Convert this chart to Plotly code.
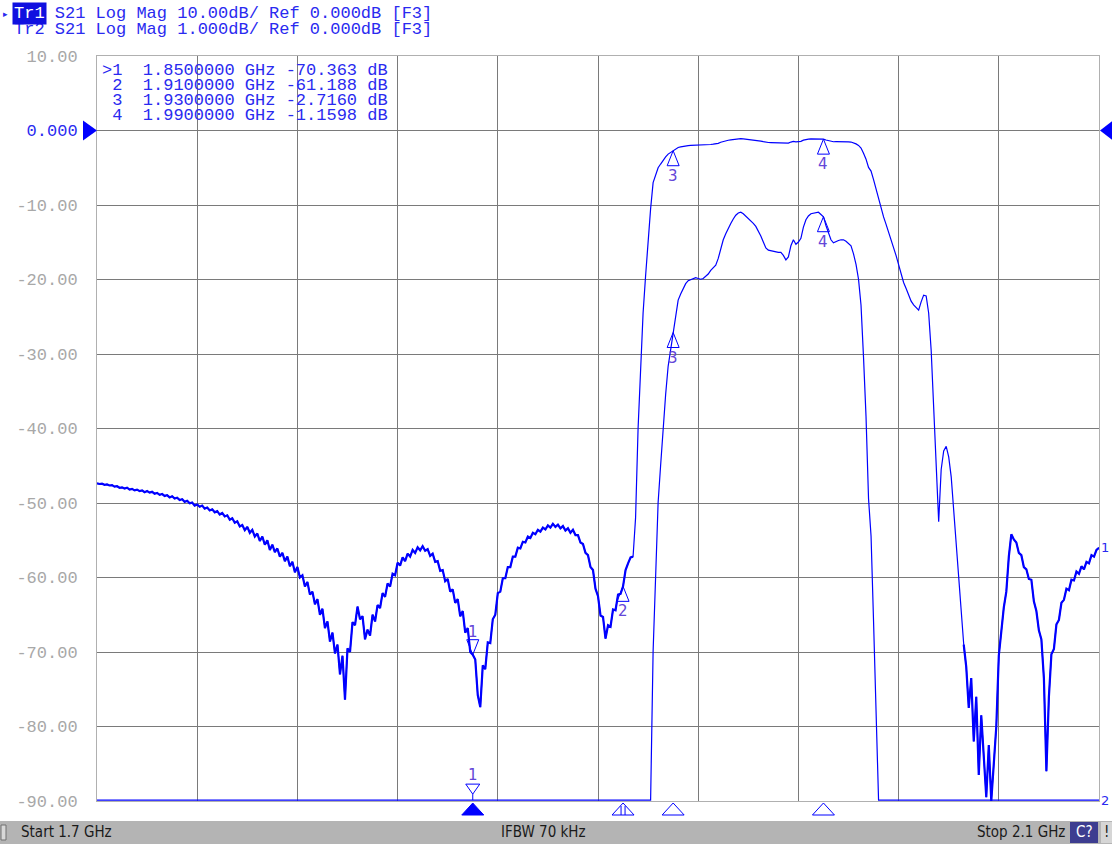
import numpy as np
import plotly.graph_objects as go

# ---------------- data ----------------
start_ghz = 1.7
stop_ghz = 2.1
n_points = 401
freq_ghz = np.linspace(start_ghz, stop_ghz, n_points)   # linear sweep, 1 MHz step

s21_db = [
    -47.35, -47.45, -47.4, -47.55, -47.5, -47.65, -47.6, -47.8, -47.75, -47.95,
    -47.9, -48.05, -47.95, -48.2, -48.1, -48.3, -48.2, -48.4, -48.3, -48.55,
    -48.4, -48.6, -48.5, -48.75, -48.65, -48.9, -48.8, -49.05, -48.95, -49.25,
    -49.1, -49.4, -49.3, -49.6, -49.5, -49.85, -49.7, -50.05, -49.95, -50.35,
    -50.2, -50.5, -50.35, -50.75, -50.6, -51.0, -50.85, -51.25, -51.1, -51.55,
    -51.35, -51.8, -51.65, -52.25, -52.05, -52.65, -52.45, -53.15, -52.95, -53.65,
    -53.2, -54.0, -53.6, -54.5, -54.1, -55.1, -54.5, -55.6, -55.0, -56.3,
    -55.6, -56.6, -56.1, -57.2, -56.7, -57.8, -57.2, -58.5, -57.9, -59.3,
    -58.6, -60.0, -59.7, -61.2, -60.6, -62.3, -61.9, -63.6, -62.9, -65.0,
    -64.2, -66.8, -65.9, -68.6, -67.4, -70.2, -69.0, -73.0, -70.5, -76.4,
    -69.5, -70.0, -66.0, -66.4, -63.9, -65.6, -65.2, -68.3, -67.0, -67.8,
    -65.0, -65.9, -63.7, -64.1, -62.1, -62.6, -60.8, -61.2, -59.5, -59.7,
    -58.0, -58.4, -57.3, -57.8, -56.8, -57.2, -56.3, -56.7, -55.95, -56.35,
    -55.8, -56.4, -56.2, -57.1, -56.8, -57.9, -57.8, -59.1, -59.0, -60.5,
    -60.2, -61.9, -61.6, -63.4, -62.9, -65.2, -64.5, -67.4, -66.8, -70.0,
    -70.363, -71.0, -75.8, -77.4, -71.8, -72.3, -68.7, -68.8, -65.6, -65.0,
    -62.1, -61.9, -60.1, -60.1, -58.6, -58.6, -57.2, -57.2, -56.0, -56.1,
    -55.2, -55.3, -54.5, -54.7, -54.0, -54.2, -53.6, -53.85, -53.3, -53.55,
    -53.0, -53.3, -52.8, -53.2, -52.9, -53.4, -53.1, -53.7, -53.4, -54.0,
    -53.6, -54.3, -54.3, -55.3, -55.5, -56.7, -57.0, -58.6, -59.0, -61.5,
    -62.5, -65.1, -65.3, -68.2, -66.4, -66.6, -64.3, -64.4, -62.3, -62.2,
    -61.188, -59.0, -58.1, -57.3, -57.2, -52.0, -40.0, -31.5, -24.5, -19.5,
    -14.5, -10.5, -7.0, -6.0, -5.0, -4.5, -3.95, -3.55, -3.17, -2.95,
    -2.716, -2.45, -2.28, -2.20, -2.12, -2.06, -2.02, -2.01, -2.00, -1.98,
    -1.99, -2.00, -1.99, -1.96, -1.93, -1.88, -1.84, -1.81, -1.72, -1.58,
    -1.47, -1.39, -1.31, -1.25, -1.19, -1.14, -1.11, -1.10, -1.12, -1.15,
    -1.18, -1.21, -1.25, -1.29, -1.35, -1.42, -1.50, -1.58, -1.61, -1.62,
    -1.63, -1.63, -1.64, -1.64, -1.68, -1.74, -1.70, -1.55, -1.47, -1.53,
    -1.50, -1.45, -1.30, -1.20, -1.15, -1.12, -1.11, -1.10, -1.10, -1.13,
    -1.1598, -1.28, -1.38, -1.47, -1.51, -1.49, -1.48, -1.47, -1.47, -1.49,
    -1.52, -1.55, -1.66, -1.80, -2.00, -2.35, -3.05, -3.85, -4.95, -5.45,
    -6.6, -7.9, -9.2, -10.5, -11.6, -12.6, -13.6, -14.6, -15.7, -16.8,
    -18.0, -19.3, -20.4, -21.2, -22.1, -22.9, -23.4, -23.8, -24.1, -23.0,
    -22.1, -22.2, -24.5, -29.5, -37.5, -43.5, -52.5, -45.5, -43.0, -42.4,
    -43.8, -46.5, -50.8, -55.0, -59.3, -64.0, -69.0, -72.0, -77.5, -73.5,
    -82.0, -76.0, -86.5, -78.5, -84.0, -89.5, -82.5, -90.0, -85.0, -80.0,
    -70.5, -67.3, -64.0, -61.9, -57.2, -54.2, -54.9, -55.3, -56.7, -57.0,
    -58.6, -58.9, -60.2, -60.3, -63.2, -64.5, -67.1, -68.3, -73.5, -86.0,
    -76.0, -70.3, -69.6, -66.3, -65.7, -63.4, -63.0, -61.5, -61.7, -60.3,
    -60.4, -59.2, -59.5, -58.5, -58.9, -57.9, -58.1, -57.0, -57.2, -56.3,
    -56.0,
]

marker_ids = [1, 2, 3, 4]
marker_freq_ghz = [1.85, 1.91, 1.93, 1.99]
marker_db = [-70.363, -61.188, -2.7160, -1.1598]

trace_names = ["Tr1", "Tr2"]
trace_scale_db = [10.0, 1.0]         # dB per division
trace_ref_db = [0.0, 0.0]
trace_scale_text = ["10.00dB/", "1.000dB/"]
ifbw_text = "IFBW 70 kHz"

# stop-band spans where the measured trace is noisy (drawn heavier)
noisy_spans_ghz = [(1.700, 1.9145), (2.0455, 2.100)]

y_ticks = [10, 0, -10, -20, -30, -40, -50, -60, -70, -80, -90]
y_tick_labels = ["10.00", "0.000", "-10.00", "-20.00", "-30.00", "-40.00",
                 "-50.00", "-60.00", "-70.00", "-80.00", "-90.00"]

# ---------------- styling ----------------
BLUE = "#0000ff"
TXT_BLUE = "#2a2af0"
MK_TXT = "#6446d8"
GRID = "#7a7a7a"
FRAME = "#b0b0b0"
MONO = "Liberation Mono, DejaVu Sans Mono, monospace"
W, H = 1112, 844
L, R, T, B = 97, 13, 56, 43
PW, PH = W - L - R, H - T - B


def px(xp):
    return (xp - L) / PW


def py(yp):
    return (H - B - yp) / PH


# display ranges: 10 divisions, reference at 9th division from bottom
y1_range = [trace_ref_db[0] - 9 * trace_scale_db[0], trace_ref_db[0] + 1 * trace_scale_db[0]]
tr2_bottom = trace_ref_db[1] - 9 * trace_scale_db[1]
tr2_top = trace_ref_db[1] + 1 * trace_scale_db[1]
y2_range = [tr2_bottom - 0.012, tr2_top]

s21 = np.array(s21_db)
tr2_display = np.clip(s21, tr2_bottom, tr2_top)
noisy = np.zeros(n_points, dtype=bool)
for a, b in noisy_spans_ghz:
    noisy |= (freq_ghz >= a) & (freq_ghz <= b)
s21_noisy = np.where(noisy, s21, np.nan)

fig = go.Figure()
fig.add_trace(go.Scatter(x=freq_ghz, y=tr2_display, mode="lines", yaxis="y2",
                         line=dict(color=BLUE, width=1.2), hoverinfo="skip", name="Tr2"))
fig.add_trace(go.Scatter(x=freq_ghz, y=s21, mode="lines", yaxis="y",
                         line=dict(color=BLUE, width=1.2), hoverinfo="skip", name="Tr1"))
fig.add_trace(go.Scatter(x=freq_ghz, y=s21_noisy, mode="lines", yaxis="y", connectgaps=False,
                         line=dict(color=BLUE, width=2.2), hoverinfo="skip", name="Tr1 noise"))

ticktext = [f'<span style="color:{TXT_BLUE}">{t}</span>' if v == trace_ref_db[0] else t
            for v, t in zip(y_ticks, y_tick_labels)]

fig.update_layout(
    width=W, height=H,
    margin=dict(l=L, r=R, t=T, b=B, pad=0),
    paper_bgcolor="white", plot_bgcolor="white",
    showlegend=False, hovermode=False,
    xaxis=dict(range=[start_ghz, stop_ghz], tick0=start_ghz, dtick=(stop_ghz - start_ghz) / 10,
               showticklabels=False, ticks="", showgrid=True, gridcolor=GRID, gridwidth=1,
               zeroline=False, showline=True, linecolor=FRAME, linewidth=1, mirror=True,
               layer="below traces", fixedrange=True),
    yaxis=dict(range=y1_range, tickmode="array", tickvals=y_ticks, ticktext=ticktext,
               tickfont=dict(family=MONO, size=17, color="#a8a8a8"), ticks="",
               ticklabelstandoff=15, showgrid=True, gridcolor=GRID, gridwidth=1,
               zeroline=False, showline=True, linecolor=FRAME, linewidth=1, mirror=True,
               layer="below traces", fixedrange=True),
    yaxis2=dict(range=y2_range, overlaying="y", side="right", showticklabels=False,
                showgrid=False, zeroline=False, showline=False, ticks="", fixedrange=True),
)

shapes = []
ann = []

# reference level arrows
shapes.append(dict(type="path", xref="paper", yref="y", xsizemode="pixel", ysizemode="pixel",
                   xanchor=0, yanchor=trace_ref_db[0], path="M -14,10 L 0,0 L -14,-10 Z",
                   fillcolor=BLUE, line=dict(width=0)))
shapes.append(dict(type="path", xref="paper", yref="y2", xsizemode="pixel", ysizemode="pixel",
                   xanchor=1, yanchor=trace_ref_db[1], path="M 14,10 L 1,0 L 14,-10 Z",
                   fillcolor=BLUE, line=dict(width=0)))

# markers on Tr1
for mid, f, v in zip(marker_ids, marker_freq_ghz, marker_db):
    if mid == 1:
        path = "M 0,0 L -6,15 L 6,15 Z"
        shift = 23
    else:
        path = "M 0,0 L -6,-15 L 6,-15 Z"
        shift = -25
    shapes.append(dict(type="path", xref="x", yref="y", xsizemode="pixel", ysizemode="pixel",
                       xanchor=f, yanchor=v, path=path, line=dict(color=BLUE, width=1)))
    ann.append(dict(x=f, y=v, xref="x", yref="y", text=str(mid), showarrow=False,
                    yshift=shift, font=dict(family="DejaVu Sans", size=15, color=MK_TXT)))

# markers on Tr2 (values shown on the 1 dB/div trace)
for mid, f, v in zip(marker_ids, marker_freq_ghz, marker_db):
    if tr2_bottom <= v <= tr2_top:
        shapes.append(dict(type="path", xref="x", yref="y2", xsizemode="pixel", ysizemode="pixel",
                           xanchor=f, yanchor=v, path="M 0,0 L -6,-15 L 6,-15 Z",
                           line=dict(color=BLUE, width=1)))
        ann.append(dict(x=f, y=v, xref="x", yref="y2", text=str(mid), showarrow=False,
                        yshift=-25, font=dict(family="DejaVu Sans", size=15, color=MK_TXT)))
    elif mid == 1:
        shapes.append(dict(type="path", xref="x", yref="y2", xsizemode="pixel", ysizemode="pixel",
                           xanchor=f, yanchor=tr2_bottom, path="M -7,16 L 7,16 L 0,6 Z M 0,6 L 0,0",
                           line=dict(color=BLUE, width=1)))
        ann.append(dict(x=f, y=tr2_bottom, xref="x", yref="y2", text=str(mid), showarrow=False,
                        yshift=25, font=dict(family="DejaVu Sans", size=15, color=MK_TXT)))

# marker position row below the grid
for mid, f in zip(marker_ids, marker_freq_ghz):
    if mid == 1:
        shapes.append(dict(type="path", xref="x", yref="paper", xsizemode="pixel", ysizemode="pixel",
                           xanchor=f, yanchor=0, path="M 0,-2 L -11,-14 L 11,-14 Z",
                           fillcolor=BLUE, line=dict(color=BLUE, width=1)))
    elif mid == 2:
        shapes.append(dict(type="path", xref="x", yref="paper", xsizemode="pixel", ysizemode="pixel",
                           xanchor=f, yanchor=0,
                           path="M 0,-2 L -11,-14 L 11,-14 Z M -2,-5 L -2,-14 M 2,-5 L 2,-14",
                           line=dict(color=BLUE, width=1)))
    else:
        shapes.append(dict(type="path", xref="x", yref="paper", xsizemode="pixel", ysizemode="pixel",
                           xanchor=f, yanchor=0, path="M 0,-2 L -11,-14 L 11,-14 Z",
                           line=dict(color=BLUE, width=1)))

# trace end labels
ann.append(dict(x=1, y=float(s21[-1]), xref="paper", yref="y", text="1", showarrow=False,
                xanchor="left", xshift=0, font=dict(family="DejaVu Sans", size=13, color=TXT_BLUE)))
ann.append(dict(x=1, y=float(tr2_display[-1]), xref="paper", yref="y2", text="2", showarrow=False,
                xanchor="left", xshift=0, font=dict(family="DejaVu Sans", size=13, color=TXT_BLUE)))

# header lines
nb = lambda s: s.replace(" ", "\u00a0")
for k, (name, sc) in enumerate(zip(trace_names, trace_scale_text)):
    line = f"{name} S21 Log Mag {sc} Ref {trace_ref_db[k]:.3f}dB [F3]"
    ann.append(dict(x=px(12), y=py(14 + 16 * k), xref="paper", yref="paper", text=nb(line),
                    showarrow=False, xanchor="left", yanchor="middle", borderpad=1,
                    font=dict(family=MONO, size=17, color=TXT_BLUE)))
ann.append(dict(x=px(12), y=py(14), xref="paper", yref="paper", text=trace_names[0],
                showarrow=False, xanchor="left", yanchor="middle", borderpad=1, bgcolor="#1010e0",
                font=dict(family=MONO, size=17, color="white")))
ann.append(dict(x=px(5), y=py(14), xref="paper", yref="paper", text="▸", showarrow=False,
                xanchor="center", yanchor="middle", font=dict(family="DejaVu Sans", size=9, color=TXT_BLUE)))

# marker table
for k, (mid, f, v) in enumerate(zip(marker_ids, marker_freq_ghz, marker_db)):
    line = f"{'>' if k == 0 else ' '}{mid}  {f:.7f} GHz {v:#.5g} dB"
    ann.append(dict(x=px(101), y=py(70 + 15.3 * k), xref="paper", yref="paper", text=nb(line),
                    showarrow=False, xanchor="left", yanchor="middle", borderpad=0,
                    font=dict(family=MONO, size=17, color=TXT_BLUE)))

# status bar
shapes.append(dict(type="rect", xref="paper", yref="paper", x0=px(0), x1=px(W), y0=py(H), y1=py(821),
                   fillcolor="#b4b4b4", line=dict(width=0), layer="below"))
shapes.append(dict(type="rect", xref="paper", yref="paper", x0=px(1), x1=px(6), y0=py(840), y1=py(825),
                   fillcolor="#d8d8d8", line=dict(color="#707070", width=1)))
shapes.append(dict(type="rect", xref="paper", yref="paper", x0=px(1070), x1=px(1098), y0=py(843), y1=py(822),
                   fillcolor="#3d3d90", line=dict(width=0)))
shapes.append(dict(type="rect", xref="paper", yref="paper", x0=px(1101), x1=px(1112), y0=py(843), y1=py(822),
                   fillcolor="#d6d6d6", line=dict(width=0)))
SB = "Liberation Sans Narrow, DejaVu Sans Condensed, Liberation Sans, sans-serif"
ann.append(dict(x=px(19), y=py(832), xref="paper", yref="paper", text=f"Start {start_ghz:g} GHz",
                showarrow=False, xanchor="left", yanchor="middle", font=dict(family=SB, size=15, color="#1a1a1a")))
ann.append(dict(x=px(543), y=py(832), xref="paper", yref="paper", text=ifbw_text,
                showarrow=False, xanchor="center", yanchor="middle", font=dict(family=SB, size=15, color="#1a1a1a")))
ann.append(dict(x=px(1067), y=py(832), xref="paper", yref="paper", text=f"Stop {stop_ghz:g} GHz",
                showarrow=False, xanchor="right", yanchor="middle", font=dict(family=SB, size=15, color="#1a1a1a")))
ann.append(dict(x=px(1084), y=py(832), xref="paper", yref="paper", text="C?",
                showarrow=False, xanchor="center", yanchor="middle", font=dict(family=SB, size=15, color="white")))
ann.append(dict(x=px(1106), y=py(832), xref="paper", yref="paper", text="!",
                showarrow=False, xanchor="center", yanchor="middle", font=dict(family=SB, size=15, color="#1a1a1a")))

fig.update_layout(shapes=shapes, annotations=ann)
fig.write_html("out.html", include_plotlyjs=True,
               config={"displayModeBar": False, "staticPlot": True},
               post_script="document.body.style.margin='0';document.body.style.overflow='hidden';")
